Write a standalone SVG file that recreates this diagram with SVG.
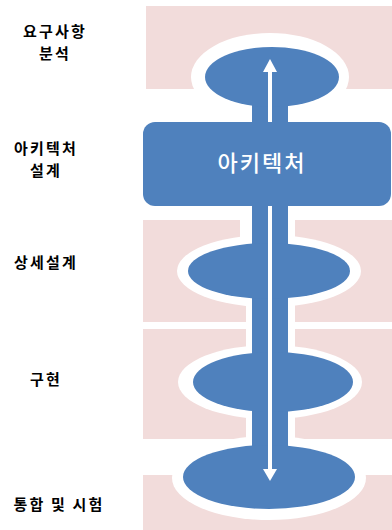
<svg xmlns="http://www.w3.org/2000/svg" width="392" height="530" viewBox="0 0 392 530">
  <style>
    .band { fill: #F2DCDB; }
    .halo { fill: #FFFFFF; }
    .blue { fill: #4F81BD; }
    .lbl { font-family: "Noto Sans CJK KR", "Noto Sans", sans-serif; font-size: 15px; font-weight: bold; fill: #000000; text-anchor: middle; letter-spacing: 2.2px; }
    .inner { font-family: "Noto Sans CJK KR", "Noto Sans", sans-serif; font-size: 22px; font-weight: 500; fill: #FFFFFF; text-anchor: middle; letter-spacing: 2px; }
    .shaft { stroke: #FFFFFF; stroke-width: 4; fill: none; }
  </style>
  <rect width="392" height="530" fill="#FFFFFF"/>

  <g id="bands">
    <rect class="band" x="146" y="6" width="246" height="83"/>
    <rect class="band" x="143" y="220" width="249" height="102"/>
    <rect class="band" x="143" y="329" width="249" height="110"/>
    <rect class="band" x="143" y="475" width="249" height="55"/>
  </g>

  <g id="halos">
    <ellipse class="halo" cx="270" cy="77" rx="79" ry="44"/>
    <ellipse class="halo" cx="269" cy="271" rx="92" ry="36"/>
    <ellipse class="halo" cx="270" cy="382" rx="92" ry="37"/>
    <ellipse class="halo" cx="269" cy="478" rx="97" ry="42"/>
    <rect class="halo" x="240" y="200" width="55" height="60"/>
    <rect class="halo" x="246" y="290" width="49" height="80"/>
    <rect class="halo" x="246" y="400" width="49" height="60"/>
  </g>

  <g id="connectors">
    <rect class="blue" x="252" y="90" width="36" height="400"/>
  </g>

  <g id="node-requirements">
    <ellipse class="blue" cx="272" cy="77" rx="67" ry="30"/>
    <text class="lbl" x="55" y="37">요구사항</text>
    <text class="lbl" x="55" y="59">분석</text>
  </g>

  <g id="node-detail">
    <ellipse class="blue" cx="269" cy="271" rx="81" ry="28"/>
    <text class="lbl" x="46" y="268">상세설계</text>
  </g>

  <g id="node-impl">
    <ellipse class="blue" cx="273" cy="382" rx="80" ry="30"/>
    <text class="lbl" x="46" y="385">구현</text>
  </g>

  <g id="node-integration">
    <ellipse class="blue" cx="269" cy="477" rx="86" ry="32"/>
    <text class="lbl" x="59" y="510">통합 및 시험</text>
  </g>

  <g id="arrow">
    <line class="shaft" x1="270" y1="70" x2="270" y2="130"/>
    <polygon fill="#FFFFFF" points="270,59 263,72 277,72"/>
    <line class="shaft" x1="270" y1="200" x2="270" y2="471"/>
    <polygon fill="#FFFFFF" points="270,481 263,469 277,469"/>
  </g>

  <g id="node-architecture">
    <rect class="blue" x="143" y="122" width="248" height="84" rx="12" ry="12"/>
    <text class="inner" x="262" y="171">아키텍처</text>
    <text class="lbl" x="46" y="154">아키텍처</text>
    <text class="lbl" x="46" y="176">설계</text>
  </g>
</svg>
